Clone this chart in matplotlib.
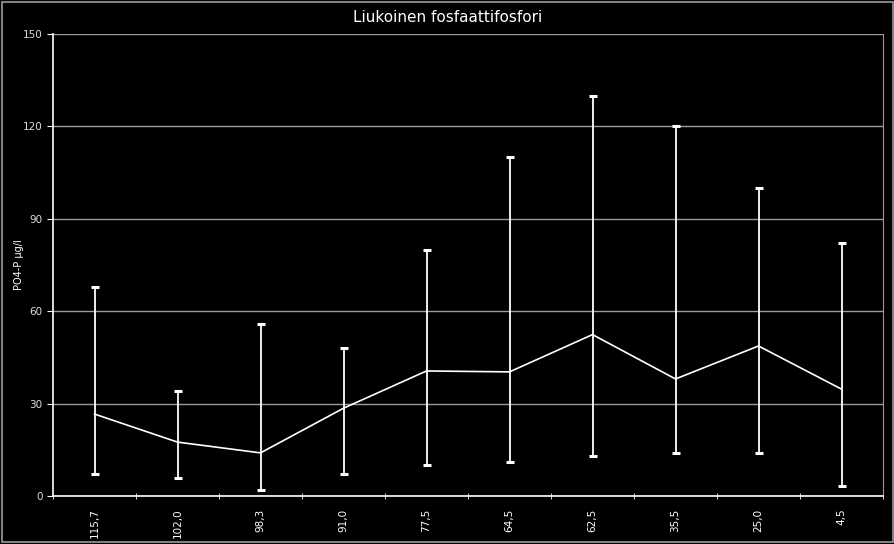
import numpy as np
import matplotlib
matplotlib.use("Agg")
import matplotlib.pyplot as plt
from matplotlib.patches import Rectangle

# depth labels (x categories) and PO4-P values in µg/l
depths = ["115,7", "102,0", "98,3", "91,0", "77,5", "64,5", "62,5", "35,5", "25,0", "4,5"]
mean_vals = [26.6, 17.5, 14.0, 28.5, 40.6, 40.3, 52.4, 38.0, 48.7, 34.7]
max_vals = [68, 34, 56, 48, 80, 110, 130, 120, 100, 82]
min_vals = [7.0, 5.7, 2.0, 7.3, 10.0, 10.9, 13.0, 13.8, 13.8, 3.3]

plt.rcParams['font.family'] = ['DejaVu Sans']

fig = plt.figure(figsize=(8.95, 5.44), dpi=100, facecolor='black')
ax = fig.add_axes([53/895, 1 - 496/544, 830/895, 462/544])
ax.set_facecolor('black')

x = np.arange(len(depths))
mean = np.array(mean_vals)
lower = mean - np.array(min_vals)
upper = np.array(max_vals) - mean

ax.errorbar(x, mean, yerr=[lower, upper], fmt='none', ecolor='white',
            elinewidth=1.3, capsize=3, capthick=2.2, zorder=3)
ax.plot(x, mean, color='white', lw=1.2, zorder=4)

ax.set_xlim(-0.5, len(depths) - 0.5)
ax.set_ylim(0, 150)
ax.set_yticks([0, 30, 60, 90, 120, 150])
ax.yaxis.grid(True, color='#9a9a9a', lw=1)
ax.set_axisbelow(True)

ax.set_xticks(x)
ax.set_xticklabels(depths, rotation=90, color='white', fontsize=7.5)
ax.set_xticks(np.arange(-0.5, len(depths)), minor=True)
ax.tick_params(axis='x', which='major', length=0, pad=9)
ax.tick_params(axis='x', which='minor', length=4, color='white', direction='inout')
ax.tick_params(axis='y', colors='white', labelsize=7.5, length=4, direction='out')
ax.tick_params(axis='y', labelcolor='#dddddd')

for s in ['left', 'bottom']:
    ax.spines[s].set_color('white')
    ax.spines[s].set_linewidth(1.2)
ax.spines['right'].set_color('#9a9a9a')
ax.spines['top'].set_visible(False)

ax.set_ylabel('PO4-P µg/l', color='white', fontsize=7)
ax.yaxis.set_label_coords(-29/830, 0.5)
fig.text(0.5, 1 - 18/544, 'Liukoinen fosfaattifosfori', color='white',
         fontsize=11, ha='center', va='center')

fig.patches.append(Rectangle((2/895, 2/544), 891/895, 540/544, transform=fig.transFigure,
                             fill=False, edgecolor='#808080', lw=1.5))

fig.savefig('out.png', dpi=100, facecolor='black')
